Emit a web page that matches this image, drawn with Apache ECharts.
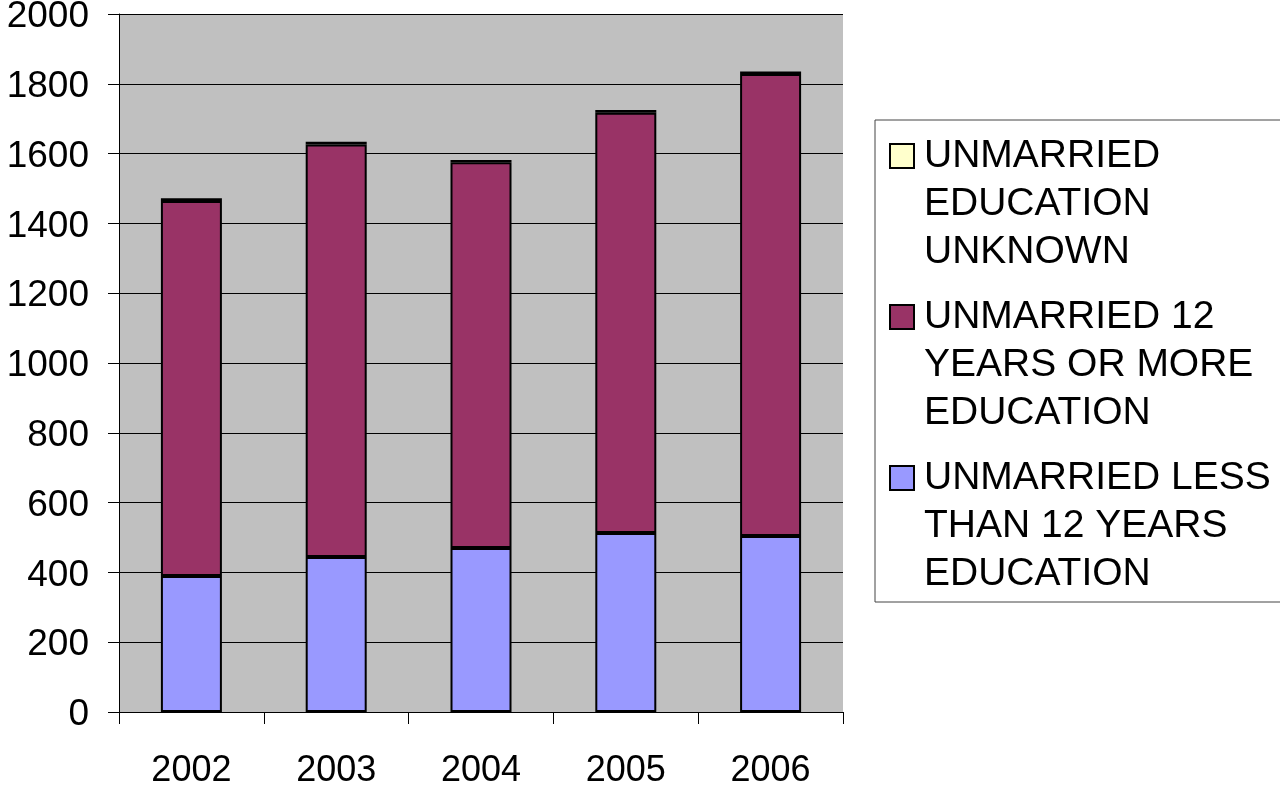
<!DOCTYPE html>
<html>
<head>
<meta charset="utf-8">
<script src="https://cdn.jsdelivr.net/npm/echarts@6/dist/echarts.min.js"></script>
<style>
  html, body { margin: 0; padding: 0; background: #ffffff; }
  #main { width: 1280px; height: 790px; }
</style>
</head>
<body>
<div id="main"></div>
<script>
// years on the x axis
var years = ['2002', '2003', '2004', '2005', '2006'];
// stacked values, bottom to top
var lessThan12 = [390, 444, 470, 513, 504];
var twelveOrMore = [1074, 1182, 1105, 1204, 1324];
var eduUnknown = [8, 8, 7, 8, 7];
// legend names (shown top to bottom)
var nameUnknown = 'UNMARRIED\nEDUCATION\nUNKNOWN';
var nameMore = 'UNMARRIED 12\nYEARS OR MORE\nEDUCATION';
var nameLess = 'UNMARRIED LESS\nTHAN 12 YEARS\nEDUCATION';

var font = 'Liberation Sans, Arial, sans-serif';
var chart = echarts.init(document.getElementById('main'));

function barSeries(name, data, color) {
  return {
    name: name,
    type: 'bar',
    stack: 'total',
    barWidth: 61,
    data: data,
    itemStyle: { color: color, borderColor: '#000', borderWidth: 2 },
    emphasis: { disabled: true }
  };
}

var option = {
  backgroundColor: '#ffffff',
  animation: false,
  grid: {
    left: 119, top: 14, right: 437, bottom: 78,
    containLabel: false,
    outerBoundsMode: 'none',
    show: true, backgroundColor: '#C0C0C0', borderWidth: 0
  },
  legend: {
    orient: 'vertical',
    left: 889,
    top: 36,
    padding: 0,
    itemGap: -79,
    itemWidth: 24,
    itemHeight: 24,
    icon: 'rect',
    data: [nameUnknown, nameMore, nameLess],
    selectedMode: false,
    // two blank lines on top so the square sits level with the first line
    formatter: function (name) { return '\n\n' + name; },
    textStyle: {
      fontFamily: font,
      fontSize: 39,
      lineHeight: 48,
      color: '#000',
      padding: [0, 0, 0, 5]
    }
  },
  graphic: [{
    type: 'rect',
    shape: { x: 875, y: 120, width: 420, height: 482 },
    style: { fill: 'none', stroke: '#444', lineWidth: 1 },
    silent: true,
    z: 0
  }],
  xAxis: {
    type: 'category',
    data: years,
    axisLine: { lineStyle: { color: '#000', width: 1 } },
    axisTick: { show: true, length: 12, lineStyle: { color: '#000' } },
    axisLabel: { fontFamily: font, fontSize: 36, color: '#000', margin: 41 }
  },
  yAxis: {
    type: 'value',
    min: 0,
    max: 2000,
    interval: 200,
    axisLine: { show: true, lineStyle: { color: '#000', width: 1 } },
    axisTick: { show: true, length: 11, lineStyle: { color: '#000' } },
    axisLabel: {
      fontFamily: font, fontSize: 37, color: '#000', margin: 30,
      // nudge the labels a few px below their ticks, as in the original
      verticalAlign: 'top',
      lineHeight: 6,
      formatter: function (v) { return String(v); }
    },
    splitLine: { show: true, lineStyle: { color: '#000', width: 1 } }
  },
  series: [
    barSeries(nameLess, lessThan12, '#9999FF'),
    barSeries(nameMore, twelveOrMore, '#993366'),
    barSeries(nameUnknown, eduUnknown, '#FFFFCC')
  ]
};

chart.setOption(option);
</script>
</body>
</html>
